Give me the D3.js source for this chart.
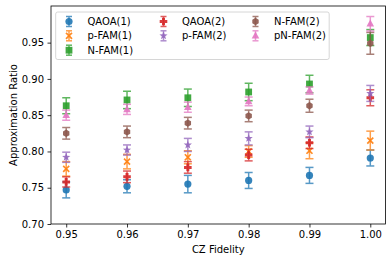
<!DOCTYPE html>
<html><head><meta charset="utf-8">
<script src="https://cdn.jsdelivr.net/npm/d3@7"></script>
<style>body{margin:0;background:#fff}svg{display:block}text{font-family:"DejaVu Sans",sans-serif;}</style>
</head><body><svg id="c" width="392" height="262"></svg>
<script>
const fidelity = [0.95, 0.96, 0.97, 0.98, 0.99, 1.00];
const xTicks = [0.95, 0.96, 0.97, 0.98, 0.99, 1.00];
const yTicks = [0.70, 0.75, 0.80, 0.85, 0.90, 0.95];
const seriesNames = ["QAOA(1)", "p-FAM(1)", "N-FAM(1)", "QAOA(2)", "p-FAM(2)", "N-FAM(2)", "pN-FAM(2)"];
const qaoa1 = [0.747, 0.752, 0.755, 0.760, 0.767, 0.791];
const qaoa1Err = [0.011, 0.009, 0.012, 0.011, 0.011, 0.011];
const pfam1 = [0.776, 0.786, 0.792, 0.800, 0.801, 0.815];
const pfam1Err = [0.010, 0.010, 0.009, 0.008, 0.011, 0.013];
const nfam1 = [0.863, 0.871, 0.874, 0.882, 0.893, 0.957];
const nfam1Err = [0.011, 0.012, 0.012, 0.012, 0.012, 0.011];
const qaoa2 = [0.758, 0.765, 0.778, 0.795, 0.812, 0.874];
const qaoa2Err = [0.007, 0.008, 0.008, 0.008, 0.008, 0.011];
const pfam2 = [0.792, 0.802, 0.809, 0.818, 0.827, 0.880];
const pfam2Err = [0.007, 0.007, 0.009, 0.009, 0.008, 0.011];
const nfam2 = [0.825, 0.827, 0.839, 0.849, 0.863, 0.949];
const nfam2Err = [0.008, 0.008, 0.008, 0.008, 0.009, 0.015];
const pnfam2 = [0.850, 0.858, 0.861, 0.869, 0.884, 0.976];
const pnfam2Err = [0.007, 0.007, 0.007, 0.006, 0.005, 0.010];

const values = [qaoa1, pfam1, nfam1, qaoa2, pfam2, nfam2, pnfam2];
const errs = [qaoa1Err, pfam1Err, nfam1Err, qaoa2Err, pfam2Err, nfam2Err, pnfam2Err];
const colors = ["#1f77b4", "#ff7f0e", "#2ca02c", "#d62728", "#9467bd", "#8c564b", "#e377c2"];
const shapes = ["circle", "X", "square", "plus", "star", "hexagon", "triangle"];

const svg = d3.select("#c");
const L = 51, R = 385.5, T = 6, B = 224;
const x = d3.scaleLinear().domain([0.9475, 1.0025]).range([L, R]);
const y = d3.scaleLinear().domain([0.70, 1.0005]).range([B, T]);

function markerPath(shape) {
  const p = d3.path();
  if (shape === "circle") { p.arc(0, 0, 3.6, 0, 2 * Math.PI); }
  else if (shape === "square") { p.rect(-3.4, -3.4, 6.8, 6.8); }
  else if (shape === "triangle") { p.moveTo(0, -4.2); p.lineTo(3.8, 2.8); p.lineTo(-3.8, 2.8); p.closePath(); }
  else if (shape === "hexagon") {
    for (let i = 0; i < 6; i++) { const a = -Math.PI / 2 + i * Math.PI / 3; const px = 3.7 * Math.cos(a), py = 3.7 * Math.sin(a); if (i) p.lineTo(px, py); else p.moveTo(px, py); }
    p.closePath();
  }
  else if (shape === "star") {
    for (let i = 0; i < 10; i++) { const a = -Math.PI / 2 + i * Math.PI / 5; const r = i % 2 ? 1.8 : 4.3; const px = r * Math.cos(a), py = r * Math.sin(a); if (i) p.lineTo(px, py); else p.moveTo(px, py); }
    p.closePath();
  }
  else if (shape === "plus") {
    const a = 3.8, b = 1.5;
    const pts = [[-b,-a],[b,-a],[b,-b],[a,-b],[a,b],[b,b],[b,a],[-b,a],[-b,b],[-a,b],[-a,-b],[-b,-b]];
    pts.forEach((q, i) => i ? p.lineTo(q[0], q[1]) : p.moveTo(q[0], q[1])); p.closePath();
  }
  else if (shape === "X") {
    const a = 3.6, w = 1.2;
    const pts = [[0,-w],[a-w,-a],[a,-a+w],[w,0],[a,a-w],[a-w,a],[0,w],[-a+w,a],[-a,a-w],[-w,0],[-a,-a+w],[-a+w,-a]];
    pts.forEach((q, i) => i ? p.lineTo(q[0], q[1]) : p.moveTo(q[0], q[1])); p.closePath();
  }
  return p.toString();
}

// axes
const gx = svg.append("g").attr("transform", `translate(0,${B})`)
  .call(d3.axisBottom(x).tickValues(xTicks).tickFormat(d3.format(".2f")).tickSizeOuter(0).tickSize(3.5).tickPadding(3.5));
const gy = svg.append("g").attr("transform", `translate(${L},0)`)
  .call(d3.axisLeft(y).tickValues(yTicks).tickFormat(d3.format(".2f")).tickSizeOuter(0).tickSize(3.5).tickPadding(3.5));
[gx, gy].forEach(g => {
  g.select(".domain").remove();
  g.selectAll("line").attr("stroke", "#000").attr("stroke-width", 0.8);
  g.selectAll("text").attr("font-size", 10).attr("fill", "#000").attr("font-family", "DejaVu Sans");
});

// data
values.forEach((vals, si) => {
  const g = svg.append("g");
  vals.forEach((v, i) => {
    const cx = x(fidelity[i]);
    const e = errs[si][i];
    const eg = g.append("g").attr("stroke", colors[si]).attr("stroke-width", 1.5).attr("opacity", 0.75);
    eg.append("line").attr("x1", cx).attr("x2", cx).attr("y1", y(v - e)).attr("y2", y(v + e));
    eg.append("line").attr("x1", cx - 4).attr("x2", cx + 4).attr("y1", y(v - e)).attr("y2", y(v - e));
    eg.append("line").attr("x1", cx - 4).attr("x2", cx + 4).attr("y1", y(v + e)).attr("y2", y(v + e));
    g.append("path").attr("d", markerPath(shapes[si])).attr("transform", `translate(${cx},${y(v)})`)
      .attr("fill", colors[si]).attr("opacity", 0.9);
  });
});

// frame
svg.append("rect").attr("x", L).attr("y", T).attr("width", R - L).attr("height", B - T)
  .attr("fill", "none").attr("stroke", "#000").attr("stroke-width", 0.8);

// labels
svg.append("text").attr("x", (L + R) / 2).attr("y", 253).attr("text-anchor", "middle").attr("font-size", 10).text("CZ Fidelity");
svg.append("text").attr("transform", `translate(17,${(T + B) / 2}) rotate(-90)`).attr("text-anchor", "middle").attr("font-size", 10).text("Approximation Ratio");

// legend
const lg = svg.append("g");
lg.append("rect").attr("x", 55.7).attr("y", 12).attr("width", 273.5).attr("height", 47.5).attr("rx", 2)
  .attr("fill", "#fff").attr("fill-opacity", 0.8).attr("stroke", "#cccccc").attr("stroke-width", 0.8);
const colX = [69, 163.5, 255.5];
const rowY = [21.5, 35.8, 50.2];
const layout = [[0,0],[0,1],[0,2],[1,0],[1,1],[2,0],[2,1]];
seriesNames.forEach((name, si) => {
  const [c, r] = layout[si];
  const mx = colX[c], my = rowY[r];
  const eg = lg.append("g").attr("stroke", colors[si]).attr("stroke-width", 1.5).attr("opacity", 0.75);
  eg.append("line").attr("x1", mx).attr("x2", mx).attr("y1", my - 5).attr("y2", my + 5);
  eg.append("line").attr("x1", mx - 3).attr("x2", mx + 3).attr("y1", my - 5).attr("y2", my - 5);
  eg.append("line").attr("x1", mx - 3).attr("x2", mx + 3).attr("y1", my + 5).attr("y2", my + 5);
  lg.append("path").attr("d", markerPath(shapes[si])).attr("transform", `translate(${mx},${my})`).attr("fill", colors[si]).attr("opacity", 0.9);
  lg.append("text").attr("x", mx + 18.5).attr("y", my + 3.6).attr("font-size", 10).text(name);
});
</script></body></html>
